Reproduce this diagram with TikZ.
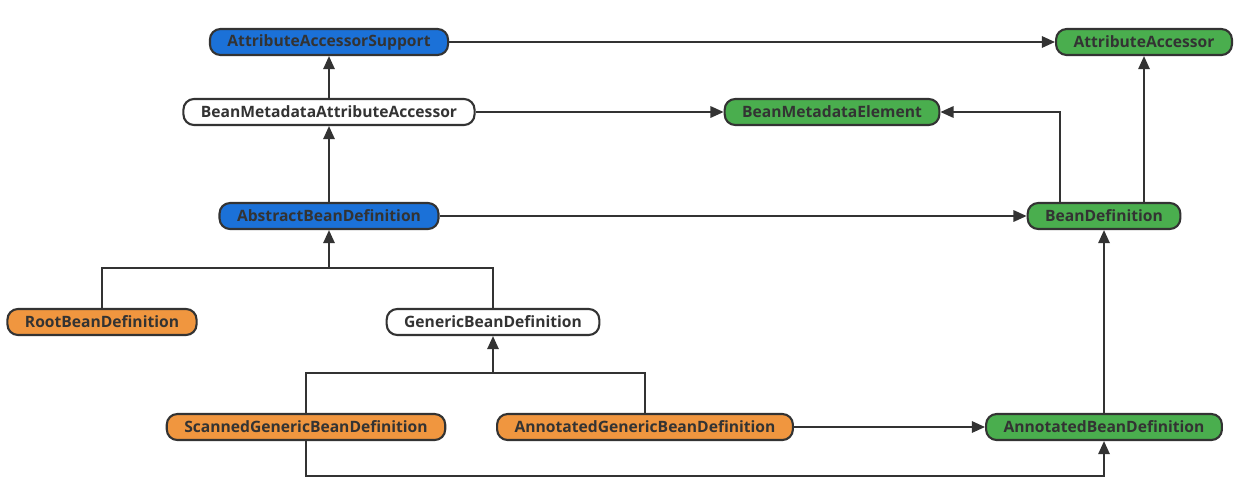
\documentclass[tikz,border=0pt]{standalone}
\usepackage{fontspec}
\setmainfont{Open Sans}
\usetikzlibrary{arrows.meta}
\definecolor{cblue}{HTML}{1B71D8}
\definecolor{cgreen}{HTML}{4AAE4E}
\definecolor{corange}{HTML}{F0963F}
\definecolor{cline}{HTML}{333333}
\begin{document}
\begin{tikzpicture}[x=0.02cm,y=-0.02cm,
  cls/.style = {rectangle,rounded corners=6pt,draw=cline,line width=1.2pt,minimum height=0.52cm,
                inner xsep=0.35cm,inner ysep=0pt,text=cline,font=\fontsize{8.9}{10}\selectfont\bfseries},
  blue/.style = {cls,fill=cblue},
  green/.style = {cls,fill=cgreen},
  orange/.style = {cls,fill=corange},
  plain/.style = {cls,fill=white},
  link/.style = {draw=cline,line width=1.1pt},
  arr/.style = {link,-{Triangle[length=7.5pt,width=6.5pt]}}]
\useasboundingbox (0,0) rectangle (1247,498);
% top row
\node[blue]   (aas)    at (329,42)   {AttributeAccessorSupport};
\node[green]  (aa)     at (1144,42)  {AttributeAccessor};
\node[plain]  (bmaa)   at (329,112)  {BeanMetadataAttributeAccessor};
\node[green]  (bme)    at (832,112)  {BeanMetadataElement};
\node[blue]   (abd)    at (329,216)  {AbstractBeanDefinition};
\node[green]  (bd)     at (1104,216) {BeanDefinition};
% lower rows
\node[orange] (root)   at (102,322)  {RootBeanDefinition};
\node[plain]  (gen)    at (493,322)  {GenericBeanDefinition};
\node[orange] (scan)   at (306,427)  {ScannedGenericBeanDefinition};
\node[orange] (anngen) at (645,427)  {AnnotatedGenericBeanDefinition};
\node[green]  (annbd)  at (1104,427) {AnnotatedBeanDefinition};
\coordinate (absbar) at (329,268);
\coordinate (genbar) at (493,373);
\coordinate (low)    at (1104,476);
\draw[arr] (aas) -- (aa);
\draw[arr] (bmaa) -- (aas);
\draw[arr] (bmaa) -- (bme);
\draw[arr] (abd) -- (bmaa);
\draw[arr] (abd) -- (bd);
\draw[arr] ([xshift=-0.88cm]bd.north) |- (bme.east);
\draw[arr] (bd.north -| aa.south) -- (aa.south);
\draw[link] (root.north) |- (absbar) -| (gen.north);
\draw[arr] (absbar) -- (abd.south);
\draw[link] (scan.north) |- (genbar) -| (anngen.north);
\draw[arr] (genbar) -- (gen.south);
\draw[arr] (anngen) -- (annbd);
\draw[arr] (scan.south) |- (low) -- (annbd.south);
\draw[arr] (annbd) -- (bd);
\end{tikzpicture}
\end{document}
